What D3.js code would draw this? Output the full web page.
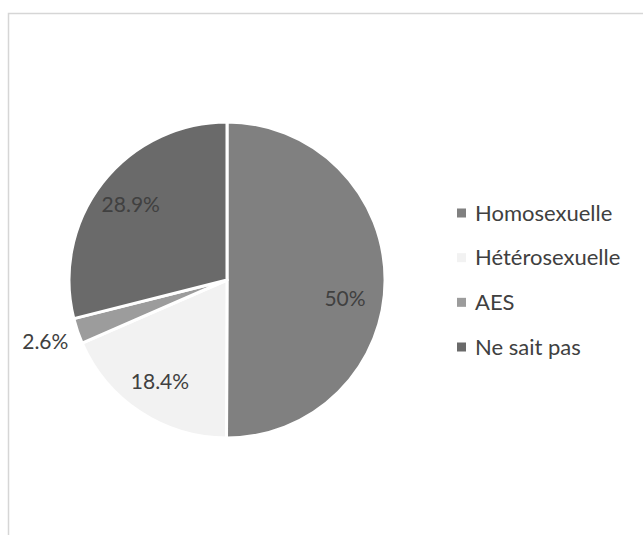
<!DOCTYPE html>
<html>
<head>
<meta charset="utf-8">
<script src="https://cdn.jsdelivr.net/npm/d3@7"></script>
<style>
  body { margin: 0; background: #fff; }
  svg { display: block; }
</style>
</head>
<body>
<svg id="chart" width="643" height="535"></svg>
<script>
// chart data
const categories = ["Homosexuelle", "Hétérosexuelle", "AES", "Ne sait pas"];
const percentValues = [50, 18.4, 2.6, 28.9];
const sliceColors = ["#808080", "#f2f2f2", "#9c9c9c", "#6a6a6a"];

const width = 643;
const height = 535;
const svg = d3.select("#chart");

// chart frame (cut off on the right and bottom)
svg.append("rect")
    .attr("x", 8.5)
    .attr("y", 13.5)
    .attr("width", width + 20)
    .attr("height", height + 20)
    .attr("fill", "#fff")
    .attr("stroke", "#d6d6d6")
    .attr("stroke-width", 1.5);

const data = categories.map((c, i) => ({ name: c, value: percentValues[i], color: sliceColors[i] }));

const cx = 227;
const cy = 280;
const radius = 158;

const pie = d3.pie()
    .value(d => d.value)
    .sort(null);

const arcs = pie(data);

const arc = d3.arc()
    .innerRadius(0)
    .outerRadius(radius);

const pieGroup = svg.append("g")
    .attr("transform", `translate(${cx},${cy})`);

pieGroup.selectAll("path")
    .data(arcs)
    .join("path")
    .attr("d", arc)
    .attr("fill", d => d.data.color)
    .attr("stroke", "#fff")
    .attr("stroke-width", 3)
    .attr("stroke-linejoin", "round");

// labels inside for big slices, outside for the small one
const insideArc = d3.arc().innerRadius(122).outerRadius(122);
const outsideArc = d3.arc().innerRadius(192).outerRadius(192);
const nudge = { "Homosexuelle": [-4, 18] };

const fmt = v => (Number.isInteger(v) ? v : v.toFixed(1)) + "%";

pieGroup.append("g")
    .attr("font-family", "Lato, sans-serif")
    .attr("font-size", 21)
    .attr("fill", "#404040")
    .attr("text-anchor", "middle")
    .selectAll("text")
    .data(arcs)
    .join("text")
    .attr("transform", d => {
        const p = d.data.value < 5 ? outsideArc.centroid(d) : insideArc.centroid(d);
        const n = nudge[d.data.name] || [0, 0];
        return `translate(${p[0] + n[0]},${p[1] + n[1]})`;
    })
    .attr("dy", "0.35em")
    .text(d => fmt(d.data.value));

// legend
const legendY = d3.scalePoint()
    .domain(categories)
    .range([213, 347]);

const legend = svg.append("g")
    .attr("font-family", "Lato, sans-serif")
    .attr("font-size", 22)
    .attr("fill", "#404040");

const legendItem = legend.selectAll("g")
    .data(data)
    .join("g")
    .attr("transform", d => `translate(457,${legendY(d.name)})`);

legendItem.append("rect")
    .attr("x", 0)
    .attr("y", -4.5)
    .attr("width", 9)
    .attr("height", 9)
    .attr("fill", d => d.color);

legendItem.append("text")
    .attr("x", 18)
    .attr("dy", "0.35em")
    .text(d => d.name);
</script>
</body>
</html>
